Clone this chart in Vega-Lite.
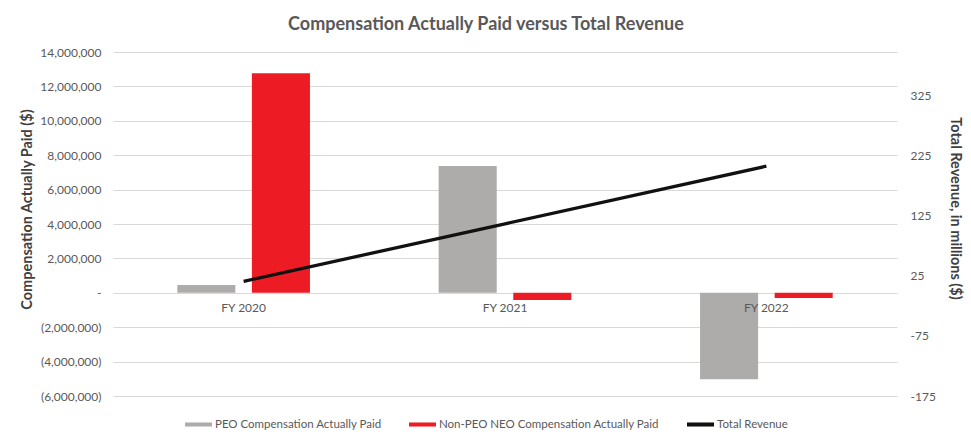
{
  "$schema": "https://vega.github.io/schema/vega-lite/v6.json",
  "width": 784,
  "height": 344,
  "autosize": "none",
  "padding": {"left": 113, "top": 52, "right": 74, "bottom": 48},
  "background": "white",
  "config": {"font": "Lato", "view": {"stroke": null}},
  "title": {"text": "Compensation Actually Paid versus Total Revenue", "fontSize": 18, "fontWeight": "bold", "color": "#595959", "dx": -19, "offset": 12},
  "datasets": {
    "bars": [
      {"year": "FY 2020", "series": "PEO Compensation Actually Paid", "value": 450000},
      {"year": "FY 2020", "series": "Non-PEO NEO Compensation Actually Paid", "value": 12760000},
      {"year": "FY 2021", "series": "PEO Compensation Actually Paid", "value": 7370000},
      {"year": "FY 2021", "series": "Non-PEO NEO Compensation Actually Paid", "value": -420000},
      {"year": "FY 2022", "series": "PEO Compensation Actually Paid", "value": -5030000},
      {"year": "FY 2022", "series": "Non-PEO NEO Compensation Actually Paid", "value": -300000}
    ],
    "rev": [
      {"year": "FY 2020", "series": "Total Revenue", "revenue": 16},
      {"year": "FY 2021", "series": "Total Revenue", "revenue": 112},
      {"year": "FY 2022", "series": "Total Revenue", "revenue": 208}
    ]
  },
  "layer": [
    {
      "data": {"name": "bars"},
      "mark": {"type": "bar"},
      "encoding": {
        "x": {
          "field": "year", "type": "nominal",
          "scale": {"paddingInner": 0.4925, "paddingOuter": 0.246},
          "axis": {"orient": "bottom", "offset": -103.3, "domain": false, "ticks": false, "labelAngle": 0, "labelPadding": 10, "labelFontSize": 12, "labelColor": "#595959", "title": null, "zindex": 1}
        },
        "xOffset": {
          "field": "series", "type": "nominal",
          "sort": ["PEO Compensation Actually Paid", "Non-PEO NEO Compensation Actually Paid"],
          "scale": {"paddingInner": 0.222, "paddingOuter": 0}
        },
        "y": {
          "field": "value", "type": "quantitative",
          "scale": {"domain": [-6000000, 14000000], "nice": false},
          "axis": {
            "values": [-6000000, -4000000, -2000000, 0, 2000000, 4000000, 6000000, 8000000, 10000000, 12000000, 14000000],
            "labelExpr": "datum.value == 0 ? '-\u00a0\u00a0\u00a0' : (datum.value < 0 ? '(' + format(-datum.value, ',') + ')' : format(datum.value, ',') + '\u2009')",
            "grid": true, "gridColor": "#d9d9d9", "gridWidth": 1.2, "domain": false, "ticks": false,
            "labelPadding": 12, "labelFontSize": 12, "labelColor": "#595959",
            "title": "Compensation Actually Paid ($)", "titleFontSize": 14.5, "titleFontWeight": "bold", "titleColor": "#404040", "titlePadding": 5, "titleY": 157
          }
        },
        "color": {
          "field": "series", "type": "nominal",
          "scale": {"domain": ["PEO Compensation Actually Paid", "Non-PEO NEO Compensation Actually Paid", "Total Revenue"], "range": ["#aeabab", "#ed1c24", "#111111"]},
          "legend": {
            "orient": "none", "legendX": 72, "legendY": 359, "direction": "horizontal", "title": null,
            "symbolType": "M-1,-0.15H1V0.15H-1Z", "symbolSize": 729, "symbolStrokeWidth": 0,
            "labelFontSize": 11.5, "labelColor": "#595959", "labelOffset": 3, "columnPadding": 27, "labelLimit": 0
          }
        }
      }
    },
    {
      "data": {"name": "rev"},
      "mark": {"type": "line", "strokeWidth": 3.3},
      "encoding": {
        "x": {"field": "year", "type": "nominal"},
        "y": {
          "field": "revenue", "type": "quantitative",
          "scale": {"domain": [-175, 398.33], "nice": false, "zero": false},
          "axis": {
            "orient": "right", "values": [-175, -75, 25, 125, 225, 325],
            "labelExpr": "(datum.value < 0 ? '-' : '') + abs(datum.value)",
            "grid": false, "domain": false, "ticks": false,
            "labelPadding": 13, "labelFontSize": 12, "labelColor": "#595959",
            "title": "Total Revenue, in millions ($)", "titleFontSize": 14.5, "titleFontWeight": "bold", "titleColor": "#404040", "titlePadding": 12, "titleY": 156
          }
        },
        "color": {"field": "series", "type": "nominal"}
      }
    }
  ],
  "resolve": {"scale": {"y": "independent"}}
}
